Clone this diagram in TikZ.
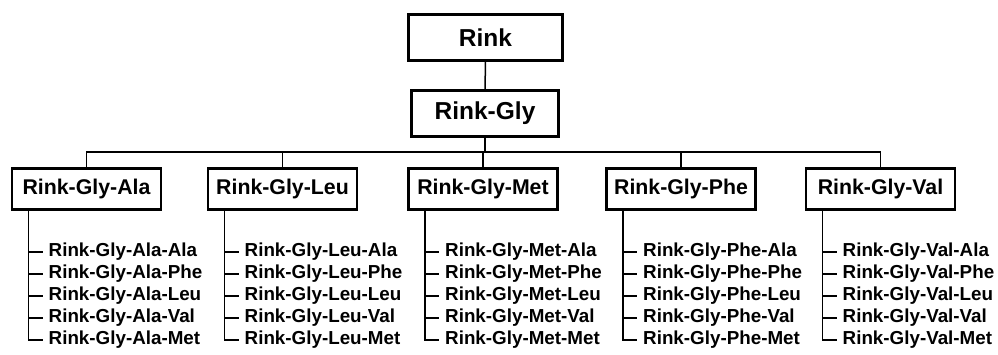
\documentclass[tikz,border=0pt]{standalone}
\usepackage{fontspec}
\setmainfont{Liberation Sans}
\begin{document}
\begin{tikzpicture}[x=1pt,y=-1pt,
  topbox/.style={draw, line width=2.6pt, font=\bfseries\fontsize{24.5}{26}\selectfont, inner sep=0pt, minimum height=45.5pt},
  childbox/.style={draw, line width=2.6pt, font=\bfseries\fontsize{21.3}{23}\selectfont, inner sep=0pt, minimum width=149pt, minimum height=41pt},
  leaf/.style={font=\bfseries\fontsize{18.8}{20}\selectfont, anchor=west, inner ysep=0pt, inner xsep=6pt},
  conn/.style={line width=1.5pt}]
\useasboundingbox (0,0) rectangle (998,355);
\node[topbox, minimum width=154.5pt] (rink) at (485.5,37.5) {Rink};
\node[topbox, minimum width=147.5pt] (gly) at (485,113.5) {Rink-Gly};
\coordinate (bus) at (485,152);
\draw[conn] (rink.south) -- (gly.north);
\draw[conn] (gly.south) -- (bus);
\foreach \n/\lab/\cx in {a/Ala/86.5, b/Leu/282.5, c/Met/483, d/Phe/681, e/Val/880.5} {
  \node[childbox] (c\n) at (\cx,189) {Rink-Gly-\lab};
  \pgfmathsetmacro{\vx}{\cx-58}
  \coordinate (v\n) at (\vx,189);
  \foreach \k/\aa in {1/Ala,2/Phe,3/Leu,4/Val,5/Met} {
    \pgfmathsetmacro{\ly}{252+22*(\k-1)}
    \node[leaf] (l\n\k) at (\vx+14,\ly) {Rink-Gly-\lab-\aa};
  }
  \draw[conn] (c\n.south -| v\n) |- (l\n5.west);
  \foreach \k in {1,2,3,4} {
    \draw[conn] (l\n\k.west -| v\n) -- (l\n\k.west);
  }
}
\draw[conn] (ca.north) |- (ce.north |- bus) -- (ce.north);
\foreach \n in {b,c,d} {
  \draw[conn] (c\n.north) -- (c\n.north |- bus);
}
\end{tikzpicture}
\end{document}
